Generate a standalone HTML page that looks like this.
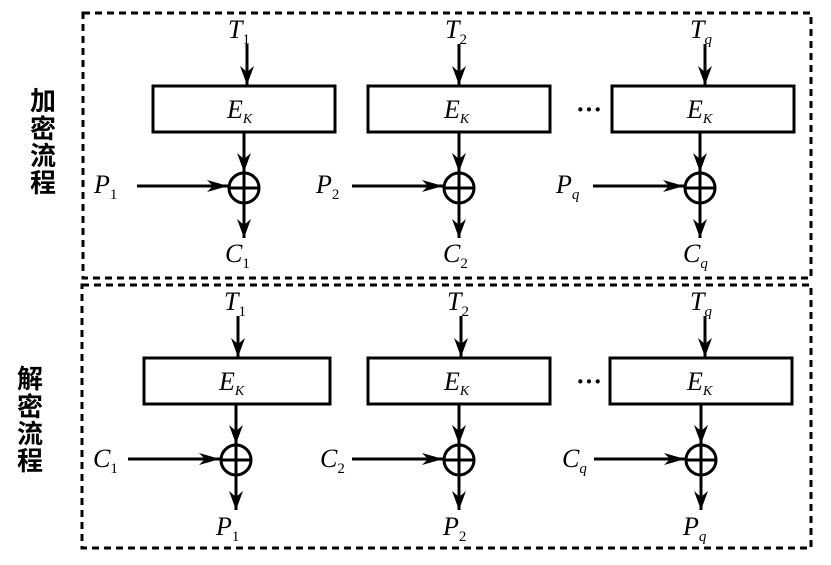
<!DOCTYPE html>
<html><head><meta charset="utf-8"><style>
html,body{margin:0;padding:0;background:#fff;}
svg{display:block}
text{font-family:"Liberation Serif",serif;font-style:italic;fill:#000}
.cn{font-family:"Liberation Sans","Noto Sans CJK SC",sans-serif;font-style:normal;font-weight:bold;font-size:26px}
</style></head><body>
<svg width="831" height="565" viewBox="0 0 831 565" xmlns="http://www.w3.org/2000/svg">
<defs>
<marker id="d" markerWidth="14" markerHeight="20" refX="7" refY="19" orient="0" markerUnits="userSpaceOnUse">
<path d="M0,0 L7,19 L14,0 L7,6 Z" fill="#000"/></marker>
<marker id="r" markerWidth="22" markerHeight="12" refX="21" refY="6" orient="0" markerUnits="userSpaceOnUse">
<path d="M0,0 L21,6 L0,12 L6,6 Z" fill="#000"/></marker>
</defs>
<g fill="none" stroke="#000" stroke-width="3" stroke-dasharray="7,5">
<rect x="83" y="13" width="728" height="265"/>
<rect x="82" y="285" width="729" height="263"/>
</g>
<text class="cn" x="30" y="110">加</text>
<text class="cn" x="30" y="138">密</text>
<text class="cn" x="30" y="165">流</text>
<text class="cn" x="30" y="192">程</text>
<text class="cn" x="17" y="388">解</text>
<text class="cn" x="17" y="416">密</text>
<text class="cn" x="17" y="443">流</text>
<text class="cn" x="17" y="470">程</text>

<g stroke="#000" stroke-width="3" fill="none">
<rect x="153" y="86" width="182" height="46"/>
<rect x="368" y="86" width="182" height="46"/>
<rect x="612" y="86" width="182" height="46"/>
<rect x="144" y="358" width="186" height="46"/>
<rect x="368" y="358" width="182" height="46"/>
<rect x="610" y="358" width="182" height="46"/>
</g>
<g stroke="#000" stroke-width="3">
<line x1="247" y1="44" x2="247" y2="85" marker-end="url(#d)"/>
<line x1="459" y1="44" x2="459" y2="85" marker-end="url(#d)"/>
<line x1="705" y1="44" x2="705" y2="85" marker-end="url(#d)"/>
<line x1="244" y1="132" x2="244" y2="172" marker-end="url(#d)"/>
<line x1="459" y1="132" x2="459" y2="172" marker-end="url(#d)"/>
<line x1="700" y1="132" x2="700" y2="172" marker-end="url(#d)"/>
<line x1="244" y1="172" x2="244" y2="238" marker-end="url(#d)"/>
<line x1="459" y1="172" x2="459" y2="238" marker-end="url(#d)"/>
<line x1="700" y1="172" x2="700" y2="238" marker-end="url(#d)"/>
<line x1="137" y1="186" x2="228" y2="186" marker-end="url(#r)"/>
<line x1="352" y1="186" x2="443" y2="186" marker-end="url(#r)"/>
<line x1="593" y1="186" x2="684" y2="186" marker-end="url(#r)"/>

<line x1="238" y1="316" x2="238" y2="357" marker-end="url(#d)"/>
<line x1="461" y1="316" x2="461" y2="357" marker-end="url(#d)"/>
<line x1="705" y1="316" x2="705" y2="357" marker-end="url(#d)"/>
<line x1="236" y1="404" x2="236" y2="444" marker-end="url(#d)"/>
<line x1="459" y1="404" x2="459" y2="444" marker-end="url(#d)"/>
<line x1="701" y1="404" x2="701" y2="444" marker-end="url(#d)"/>
<line x1="236" y1="444" x2="236" y2="510" marker-end="url(#d)"/>
<line x1="459" y1="444" x2="459" y2="510" marker-end="url(#d)"/>
<line x1="701" y1="444" x2="701" y2="510" marker-end="url(#d)"/>
<line x1="128" y1="459" x2="220" y2="459" marker-end="url(#r)"/>
<line x1="352" y1="459" x2="443" y2="459" marker-end="url(#r)"/>
<line x1="594" y1="459" x2="685" y2="459" marker-end="url(#r)"/>
</g>
<g stroke="#000" stroke-width="3" fill="none">
<circle cx="244" cy="188" r="15"/><line x1="229" y1="188" x2="259" y2="188"/>
<circle cx="459" cy="188" r="15"/><line x1="444" y1="188" x2="474" y2="188"/>
<circle cx="700" cy="188" r="15"/><line x1="685" y1="188" x2="715" y2="188"/>
<circle cx="236" cy="460" r="15"/><line x1="221" y1="460" x2="251" y2="460"/>
<circle cx="459" cy="460" r="15"/><line x1="444" y1="460" x2="474" y2="460"/>
<circle cx="701" cy="460" r="15"/><line x1="686" y1="460" x2="716" y2="460"/>
</g>
<text x="576" y="118" style="font-style:normal;font-weight:bold" font-size="26">···</text>
<text x="576" y="390" style="font-style:normal;font-weight:bold" font-size="26">···</text>
<g font-size="26">
<text x="228" y="38">T<tspan font-size="15" dy="6" style="font-style:normal">1</tspan></text>
<text x="445" y="38">T<tspan font-size="15" dy="6" style="font-style:normal">2</tspan></text>
<text x="690" y="38">T<tspan font-size="15" dy="6">q</tspan></text>
<text x="224" y="310">T<tspan font-size="15" dy="6" style="font-style:normal">1</tspan></text>
<text x="447" y="310">T<tspan font-size="15" dy="6" style="font-style:normal">2</tspan></text>
<text x="690" y="310">T<tspan font-size="15" dy="6">q</tspan></text>

<text x="227" y="118">E<tspan font-size="14" dy="5">K</tspan></text>
<text x="444" y="118">E<tspan font-size="14" dy="5">K</tspan></text>
<text x="687" y="118">E<tspan font-size="14" dy="5">K</tspan></text>
<text x="219" y="390">E<tspan font-size="14" dy="5">K</tspan></text>
<text x="444" y="390">E<tspan font-size="14" dy="5">K</tspan></text>
<text x="687" y="390">E<tspan font-size="14" dy="5">K</tspan></text>

<text x="94" y="193">P<tspan font-size="15" dy="6" style="font-style:normal">1</tspan></text>
<text x="316" y="193">P<tspan font-size="15" dy="6" style="font-style:normal">2</tspan></text>
<text x="556" y="193">P<tspan font-size="15" dy="6">q</tspan></text>
<text x="225" y="262">C<tspan font-size="15" dy="6" style="font-style:normal">1</tspan></text>
<text x="443" y="262">C<tspan font-size="15" dy="6" style="font-style:normal">2</tspan></text>
<text x="683" y="262">C<tspan font-size="15" dy="6">q</tspan></text>

<text x="93" y="467">C<tspan font-size="15" dy="6" style="font-style:normal">1</tspan></text>
<text x="320" y="467">C<tspan font-size="15" dy="6" style="font-style:normal">2</tspan></text>
<text x="562" y="467">C<tspan font-size="15" dy="6">q</tspan></text>
<text x="216" y="535">P<tspan font-size="15" dy="6" style="font-style:normal">1</tspan></text>
<text x="443" y="535">P<tspan font-size="15" dy="6" style="font-style:normal">2</tspan></text>
<text x="683" y="535">P<tspan font-size="15" dy="6">q</tspan></text>
</g>
</svg>
</body></html>
